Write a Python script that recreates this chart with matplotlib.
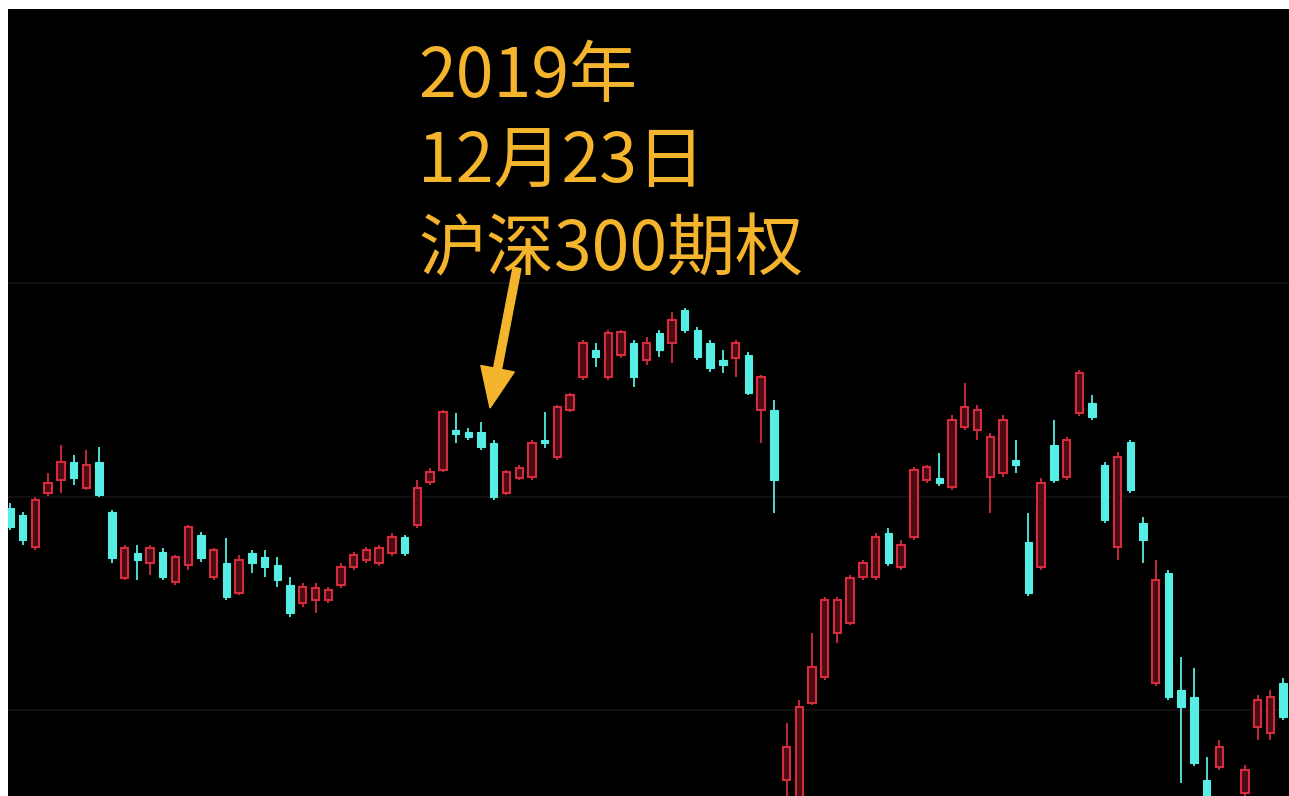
import numpy as np
import matplotlib.pyplot as plt
from matplotlib.patches import FancyArrow
from matplotlib.transforms import IdentityTransform

# OHLC (unitless index level, 0 = bottom edge of the chart)
opens = [288, 281, 249, 303, 316, 334, 308, 334, 284, 218,
         243, 233, 244, 214, 231, 261, 219, 233, 203, 243,
         239, 231, 211, 193, 196, 196, 211, 229, 236, 233,
         243, 259, 271, 314, 326, 366, 364, 364, 353, 303,
         318, 319, 356, 339, 386, 419, 446, 419, 441, 453,
         436, 463, 453, 486, 466, 453, 436, 438, 441, 386,
         386, 16, -20, 93, 119, 163, 173, 219, 219, 263,
         229, 259, 316, 318, 309, 369, 366, 319, 323, 336,
         254, 229, 351, 319, 383, 393, 331, 249, 354, 273,
         113, 223, 106, 99, 16, 29, -10, 3, 69, 63,
         113]
highs = [293, 284, 299, 323, 351, 341, 346, 349, 286, 251,
         251, 251, 248, 241, 271, 264, 248, 258, 241, 246,
         246, 239, 219, 213, 213, 209, 233, 244, 249, 251,
         263, 261, 316, 328, 386, 383, 368, 374, 356, 326,
         331, 356, 384, 391, 403, 456, 453, 466, 466, 456,
         459, 466, 484, 488, 469, 456, 446, 456, 444, 421,
         396, 73, 96, 163, 199, 199, 221, 236, 263, 268,
         256, 329, 331, 343, 381, 413, 391, 363, 381, 356,
         283, 318, 376, 359, 426, 401, 334, 344, 356, 279,
         236, 226, 139, 128, 39, 56, -5, 31, 101, 106,
         118]
lows = [266, 251, 246, 300, 303, 311, 306, 299, 233, 216,
        216, 221, 216, 211, 226, 234, 216, 196, 201, 223,
        219, 209, 179, 189, 183, 193, 208, 226, 233, 230,
        240, 240, 268, 311, 324, 353, 356, 346, 296, 301,
        316, 316, 348, 336, 384, 416, 429, 416, 438, 409,
        431, 439, 433, 463, 436, 424, 423, 419, 401, 353,
        283, -4, -30, 91, 116, 153, 171, 216, 216, 230,
        226, 256, 313, 310, 306, 366, 356, 283, 319, 323,
        200, 226, 313, 316, 380, 376, 273, 236, 303, 233,
        110, 96, 13, 30, -20, 26, -35, -5, 56, 56,
        76]
closes = [269, 256, 296, 313, 334, 318, 331, 301, 238, 248,
          236, 248, 219, 239, 269, 238, 246, 199, 236, 233,
          229, 216, 183, 209, 208, 206, 229, 241, 246, 248,
          259, 243, 308, 324, 384, 362, 359, 349, 299, 324,
          328, 353, 353, 389, 401, 453, 439, 463, 464, 419,
          453, 446, 476, 466, 439, 428, 431, 453, 403, 419,
          316, 49, 89, 129, 196, 196, 218, 233, 259, 233,
          251, 326, 329, 313, 376, 389, 386, 359, 376, 331,
          203, 313, 316, 356, 423, 379, 276, 339, 306, 256,
          216, 99, 89, 33, -14, 49, -30, 26, 96, 99,
          79]

o = np.array(opens)
h = np.array(highs)
l = np.array(lows)
c = np.array(closes)
x = np.arange(len(o))
up = c >= o

red = "#D42C3C"
cyan = "#55EDE4"
gold = "#F4B52C"

fig = plt.figure(figsize=(12.89, 7.96), dpi=100, facecolor="white")
ax = fig.add_axes([8 / 1289, 0, 1281 / 1289, 787 / 796])
ax.set_facecolor("black")

# faint grid lines of the trading software
for gy in [513, 299, 86]:
    ax.axhline(gy, color="#101010", lw=1.5, zorder=0)

top = np.maximum(o, c)
bot = np.minimum(o, c)
ax.vlines(x[up], top[up], h[up], color=red, lw=1.3)
ax.vlines(x[up], l[up], bot[up], color=red, lw=1.3)
ax.vlines(x[~up], l[~up], h[~up], color=cyan, lw=1.3)

body = np.maximum(top - bot, 2.5)
ax.bar(x[up], body[up], bottom=bot[up], width=0.58,
       facecolor="#4a0c14", edgecolor=red, lw=1.5)
ax.bar(x[~up], body[~up], bottom=bot[~up], width=0.58,
       facecolor=cyan, edgecolor=cyan, lw=0.8)

ax.set_xlim(-0.157, 100.47)
ax.set_ylim(0, 787)
ax.set_xticks([])
ax.set_yticks([])
for s in ax.spines.values():
    s.set_visible(False)

# annotation text
fam = ["Noto Sans CJK SC", "DejaVu Sans"]
lines = ["2019年", "12月23日", "沪深300期权"]
baselines = [97, 183, 270]
for txt, by in zip(lines, baselines):
    fig.text(418 / 1289, 1 - by / 796, txt, color=gold, fontsize=49,
             family=fam, weight="medium", va="baseline", ha="left")

arrow = FancyArrow(517, 796 - 268, 490 - 517, (796 - 408) - (796 - 268),
                   width=8, head_width=34, head_length=40,
                   length_includes_head=True, color=gold,
                   transform=IdentityTransform())
fig.add_artist(arrow)

fig.savefig("out.png", dpi=100, facecolor="white")
